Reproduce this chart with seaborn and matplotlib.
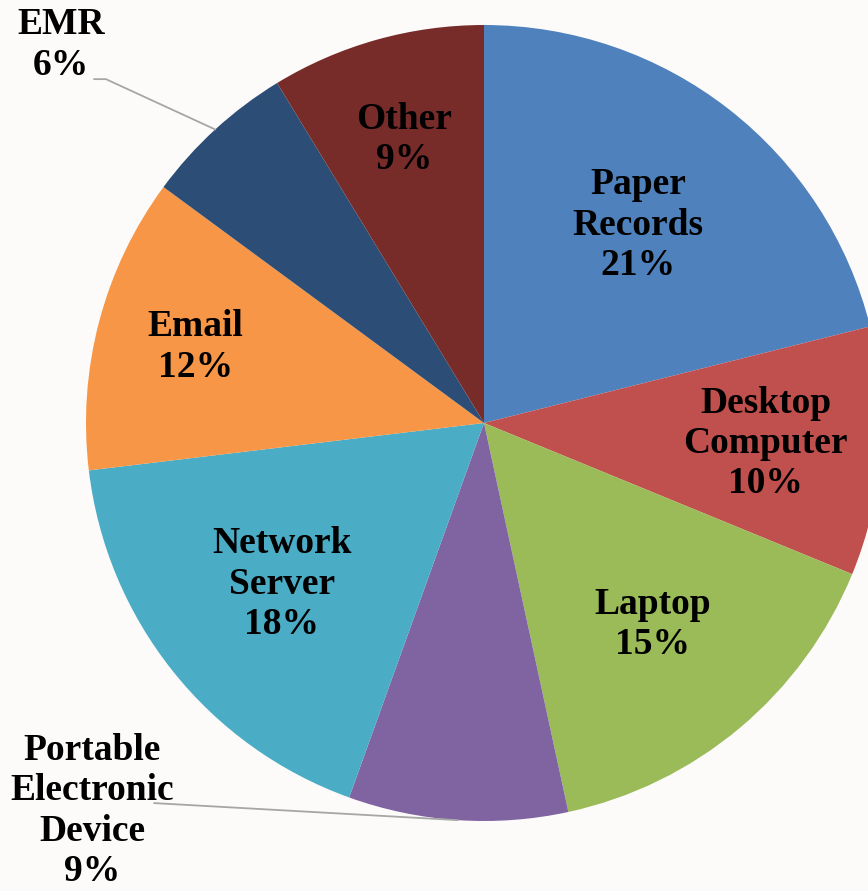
import numpy as np
import matplotlib
matplotlib.use('Agg')
import matplotlib.pyplot as plt
import seaborn as sns

sns.set_style('white')
plt.rcParams['font.family'] = ['Liberation Serif', 'DejaVu Serif']

# Data (share of breaches by location)
categories = ['Paper\nRecords', 'Desktop\nComputer', 'Laptop',
              'Portable\nElectronic\nDevice', 'Network\nServer', 'Email',
              'EMR', 'Other']
shares = [21.1, 10.1, 15.4, 8.9, 17.6, 12.0, 6.2, 8.7]
pct_labels = ['21%', '10%', '15%', '9%', '18%', '12%', '6%', '9%']
colors = ['#4F81BD', '#C0504D', '#9BBB59', '#8064A2',
          '#4BACC6', '#F79646', '#2C4D75', '#772C2A']

# Label distance from centre for the inside labels (fraction of radius)
label_dist = {0: 0.63, 1: 0.71, 2: 0.66, 4: 0.65, 5: 0.75, 7: 0.74}

bg = '#FCFBFA'
fig = plt.figure(figsize=(8.68, 8.91), dpi=100, facecolor=bg)
ax = fig.add_axes([86 / 868, (891 - 821) / 891, 796 / 868, 796 / 891])
ax.set_facecolor(bg)

wedges, _ = ax.pie(shares, colors=colors, startangle=90, counterclock=False,
                   radius=1.0, wedgeprops=dict(linewidth=0))
for w in wedges:
    w.set_clip_on(False)

font = dict(fontsize=27, fontweight='bold', color='black',
            ha='center', va='center', linespacing=1.2)

for i, (w, cat, pct) in enumerate(zip(wedges, categories, pct_labels)):
    mid = np.deg2rad((w.theta1 + w.theta2) / 2)
    txt = f'{cat}\n{pct}'
    if i in label_dist:
        r = label_dist[i]
        ax.text(r * np.cos(mid), r * np.sin(mid), txt, **font)
    else:
        ex, ey = np.cos(mid), np.sin(mid)
        if cat == 'EMR':
            ax.text(-1.063, 0.95, txt, clip_on=False, **font)
            ax.plot([-0.98, -0.95, ex], [0.864, 0.864, ey], color='#A6A6A6',
                    lw=1.3, clip_on=False)
        else:
            ax.text(-0.985, -0.975, txt, clip_on=False, **font)
            ax.plot([-0.829, ex], [-0.955, ey], color='#A6A6A6',
                    lw=1.3, clip_on=False)

ax.set_xlim(-1, 1)
ax.set_ylim(-1, 1)
ax.set_aspect('equal')
ax.axis('off')

fig.savefig('out.png', dpi=100, facecolor=bg)
